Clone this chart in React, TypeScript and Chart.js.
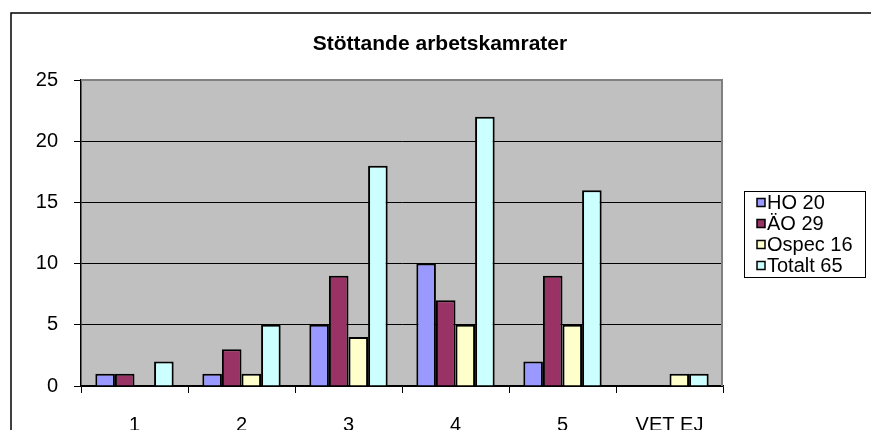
import React, { useEffect, useRef } from "react";
import { Chart, registerables } from "chart.js";

Chart.register(...registerables);

const categories = ["1", "2", "3", "4", "5", "VET EJ"];
const seriesNames = ["HO 20", "ÄO 29", "Ospec 16", "Totalt 65"];
const hoValues = [1, 1, 5, 10, 2, 0];
const aoValues = [1, 3, 9, 7, 9, 0];
const ospecValues = [0, 1, 4, 5, 5, 1];
const totaltValues = [2, 5, 18, 22, 16, 1];
const seriesColors = ["#9999FF", "#993366", "#FFFFCC", "#CCFFFF"];
const yTicks = [0, 5, 10, 15, 20, 25];
const titleText = "Stöttande arbetskamrater";

const FONT = "Arial, 'Liberation Sans', sans-serif";

const framePlugin = {
  id: "frame",
  beforeDraw(chart: any) {
    const { ctx, chartArea } = chart;
    ctx.save();
    ctx.fillStyle = "#FFFFFF";
    ctx.fillRect(0, 0, chart.width, chart.height);
    ctx.strokeStyle = "#000000";
    ctx.lineWidth = 1.5;
    ctx.beginPath();
    ctx.moveTo(11, chart.height + 2);
    ctx.lineTo(11, 13);
    ctx.lineTo(chart.width + 2, 13);
    ctx.stroke();
    ctx.fillStyle = "#C0C0C0";
    ctx.fillRect(chartArea.left, chartArea.top, chartArea.right - chartArea.left, chartArea.bottom - chartArea.top);
    ctx.restore();
  },
  afterDatasetsDraw(chart: any) {
    const { ctx, chartArea } = chart;
    ctx.save();
    ctx.strokeStyle = "#808080";
    ctx.lineWidth = 2;
    ctx.beginPath();
    ctx.moveTo(chartArea.left, chartArea.top);
    ctx.lineTo(chartArea.right - 1, chartArea.top);
    ctx.lineTo(chartArea.right - 1, chartArea.bottom);
    ctx.stroke();
    ctx.restore();
  },
  afterDraw(chart: any) {
    const { ctx } = chart;
    const left = 744;
    const top = 191;
    const width = 121;
    const rowH = 21;
    const height = 86;
    ctx.save();
    ctx.fillStyle = "#FFFFFF";
    ctx.fillRect(left, top, width, height);
    ctx.strokeStyle = "#000000";
    ctx.lineWidth = 1;
    ctx.strokeRect(left + 0.5, top + 0.5, width, height);
    ctx.font = `20px ${FONT}`;
    ctx.textBaseline = "middle";
    ctx.textAlign = "left";
    chart.data.datasets.forEach((ds: any, i: number) => {
      const cy = top + 11.5 + i * rowH;
      ctx.fillStyle = ds.backgroundColor;
      ctx.fillRect(757, cy - 4, 8, 8);
      ctx.strokeStyle = "#000000";
      ctx.lineWidth = 1.5;
      ctx.strokeRect(757, cy - 4, 8, 8);
      ctx.fillStyle = "#000000";
      ctx.fillText(ds.label, 767, cy + 1);
    });
    ctx.restore();
  },
};

export default function App() {
  const canvasRef = useRef<HTMLCanvasElement | null>(null);

  useEffect(() => {
    if (!canvasRef.current) return;
    const values = [hoValues, aoValues, ospecValues, totaltValues];
    const chart = new Chart(canvasRef.current, {
      type: "bar",
      data: {
        labels: categories,
        datasets: seriesNames.map((name, i) => ({
          label: name,
          data: values[i],
          backgroundColor: seriesColors[i],
          borderColor: "#000000",
          borderWidth: 2,
          categoryPercentage: 0.732,
          barPercentage: 1,
        })),
      },
      options: {
        animation: false,
        responsive: false,
        devicePixelRatio: 1,
        layout: { padding: { left: 9, right: 0, top: 0, bottom: 0 } },
        plugins: {
          legend: { display: false },
          tooltip: { enabled: false },
          title: {
            display: true,
            text: titleText,
            color: "#000000",
            font: { family: FONT, size: 21, weight: "bold" },
            padding: { top: 32, bottom: 22.8 },
          },
        },
        scales: {
          x: {
            grid: {
              offset: true,
              drawOnChartArea: false,
              drawTicks: true,
              tickLength: 7,
              color: "#000000",
              lineWidth: 1,
            },
            border: { display: true, color: "#000000", width: 1.5 },
            ticks: {
              color: "#000000",
              font: { family: FONT, size: 20 },
              padding: 20,
              maxRotation: 0,
              autoSkip: false,
            },
            afterFit(scale: any) {
              scale.height = 44;
            },
          },
          y: {
            min: 0,
            max: 25,
            afterBuildTicks(scale: any) {
              scale.ticks = yTicks.map((v) => ({ value: v }));
            },
            grid: {
              color: (c: any) => (c.tick && c.tick.value === 25 ? "#808080" : "#000000"),
              tickColor: "#000000",
              lineWidth: 1,
              tickLength: 7,
            },
            border: { display: true, color: "#000000", width: 1.5 },
            ticks: {
              color: "#000000",
              font: { family: FONT, size: 20 },
              padding: 16,
            },
            afterFit(scale: any) {
              scale.width = 72;
            },
          },
          yRight: {
            position: "right",
            display: true,
            grid: { display: false },
            border: { display: false },
            ticks: { display: false },
            afterFit(scale: any) {
              scale.width = 148;
            },
          },
        },
      },
      plugins: [framePlugin],
    } as any);
    return () => chart.destroy();
  }, []);

  return (
    <div style={{ position: "absolute", left: 0, top: 0, width: 871, height: 430 }}>
      <canvas ref={canvasRef} width={871} height={430} style={{ width: 871, height: 430 }} />
    </div>
  );
}
